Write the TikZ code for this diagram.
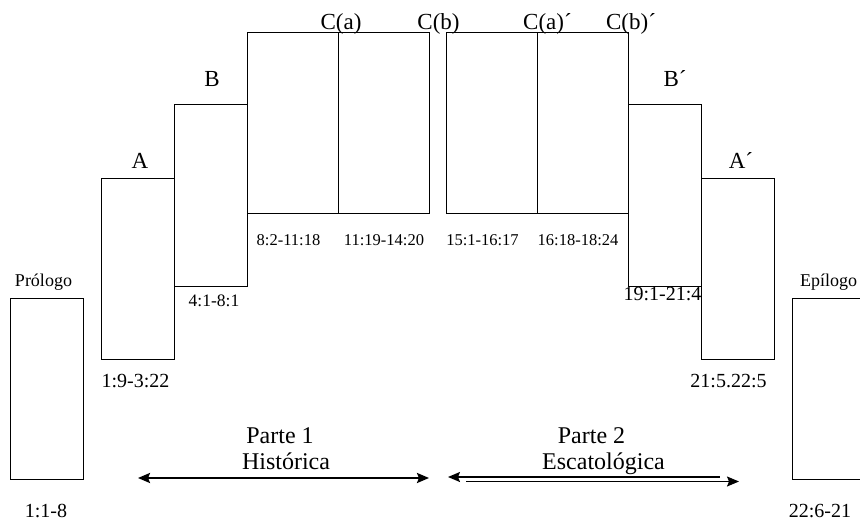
\documentclass[tikz,border=0pt]{standalone}
\usepackage{fontspec}
\setmainfont{Liberation Serif}
\usetikzlibrary{arrows.meta,positioning}

\begin{document}
\begin{tikzpicture}[x=1pt, y=-1pt, >={Stealth[length=12pt,width=10pt,inset=2pt]},
    blok/.style={draw, rectangle, line width=1.2pt, inner sep=0pt, minimum width=73pt, minimum height=181pt, anchor=north west},
    wide/.style={minimum width=91pt},
    big/.style={font=\fontsize{23}{26}\selectfont, inner sep=0pt, anchor=base},
    mid/.style={font=\fontsize{20}{22}\selectfont, inner sep=0pt, anchor=base},
    small/.style={font=\fontsize{16.5}{18}\selectfont, inner sep=0pt, anchor=base},
    deel/.style={font=\fontsize{24}{26}\selectfont, inner sep=0pt, anchor=base}]
    \useasboundingbox (0,0) rectangle (860,522);
    \clip (0,0) rectangle (860,522);

    % Boxes {prologo, A, B, Ca, Cb, Ca', Cb', B', A', epilogo}
    \node [blok]                     (prologo) at (10,298)  {};
    \node [blok]                     (A)       at (101,178) {};
    \node [blok, minimum height=182pt] (B)     at (174,104) {};
    \node [blok, wide]               (Ca)      at (247,32)  {};
    \node [blok, wide]               (Cb)      at (338,32)  {};
    \node [blok, wide]               (Ca2)     at (446,32)  {};
    \node [blok, wide]               (Cb2)     at (537,32)  {};
    \node [blok, minimum height=182pt] (B2)    at (628,104) {};
    \node [blok]                     (A2)      at (701,178) {};
    \node [blok]                     (epilogo) at (792,298) {};

    % Labels above
    \node [mid, font=\fontsize{18}{20}\selectfont] (lprologo) at (43.5,286) {Prólogo};
    \node [big]   (lA)   at (140,168)   {A};
    \node [big]   (lB)   at (212,86)    {B};
    \node [big]   (lCa)  at (341,30)    {C(a)};
    \node [big]   (lCb)  at (438.5,30)  {C(b)};
    \node [big]   (lCa2) at (547.5,30)  {C(a)´};
    \node [big]   (lCb2) at (631,30)    {C(b)´};
    \node [big]   (lB2)  at (675,86)    {B´};
    \node [big]   (lA2)  at (741,168)   {A´};
    \node [mid, font=\fontsize{18}{20}\selectfont] (lepilogo) at (828.5,286) {Epílogo};

    % Verses below
    \node [mid]   (vprologo) at (46,517)    {1:1-8};
    \node [mid]   (vA)       at (135.5,387) {1:9-3:22};
    \node [small, font=\fontsize{17.5}{19}\selectfont] (vB) at (214,306) {4:1-8:1};
    \node [small] (vCa)      at (288.5,245) {8:2-11:18};
    \node [small] (vCb)      at (384,245)   {11:19-14:20};
    \node [small] (vCa2)     at (482.5,245) {15:1-16:17};
    \node [small] (vCb2)     at (578,245)   {16:18-18:24};
    \node [mid]   (vB2)      at (662.5,300) {19:1-21:4};
    \node [mid]   (vA2)      at (728.5,387) {21:5.22:5};
    \node [mid]   (vepilogo) at (820,517)   {22:6-21};

    % Parts
    \node [deel]  (parte1) at (280,443)   {Parte 1};
    \node [deel]  (hist)   at (286,469)   {Histórica};
    \node [deel]  (parte2) at (591.5,443) {Parte 2};
    \node [deel]  (escat)  at (603.5,469) {Escatológica};

    \coordinate (h1) at (138,478);
    \coordinate (h2) at (429,478);
    \coordinate (e1) at (448,477);
    \coordinate (e2) at (720,477);
    \coordinate (e3) at (466,481.5);
    \coordinate (e4) at (739,481.5);

    % Paths
    \draw [<->, line width=2.2pt] (h1) -- (h2);
    \draw [<-,  line width=1.4pt] (e1) -- (e2);
    \draw [->,  line width=1.4pt] (e3) -- (e4);

\end{tikzpicture}
\end{document}
